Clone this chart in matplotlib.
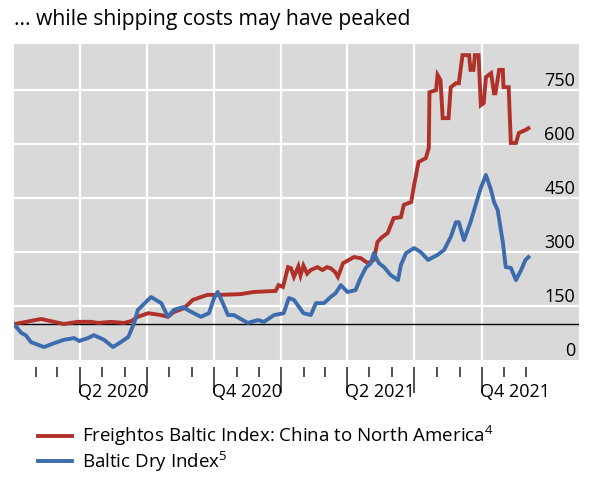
import matplotlib
matplotlib.use("Agg")
import numpy as np
import pandas as pd
import matplotlib.dates as mdates
import matplotlib.transforms as mtransforms
from matplotlib import pyplot as plt

plt.rcParams['font.family'] = ['Open Sans', 'DejaVu Sans']
plt.rcParams['mathtext.fontset'] = 'custom'
plt.rcParams['mathtext.rm'] = 'Open Sans'

# Freightos Baltic Index: China to North America (index)
fbx_dates = ['2020-01-03', '2020-02-08', '2020-03-10', '2020-03-29', '2020-04-16',
             '2020-04-26', '2020-05-13', '2020-05-31', '2020-06-10', '2020-06-19',
             '2020-07-03', '2020-07-20', '2020-07-30', '2020-08-07', '2020-08-21',
             '2020-09-02', '2020-09-22', '2020-10-10', '2020-11-06', '2020-11-24',
             '2020-12-24', '2020-12-28', '2021-01-03', '2021-01-10', '2021-01-14',
             '2021-01-18', '2021-01-24', '2021-01-27', '2021-01-31', '2021-02-05',
             '2021-02-10', '2021-02-19', '2021-02-26', '2021-03-04', '2021-03-09',
             '2021-03-15', '2021-03-19', '2021-03-26', '2021-04-10', '2021-04-19',
             '2021-04-29', '2021-05-07', '2021-05-12', '2021-05-17', '2021-05-26',
             '2021-06-03', '2021-06-13', '2021-06-17', '2021-06-27', '2021-07-01',
             '2021-07-07', '2021-07-17', '2021-07-21', '2021-07-22', '2021-07-31',
             '2021-08-02', '2021-08-06', '2021-08-09', '2021-08-17', '2021-08-20',
             '2021-08-27', '2021-08-31', '2021-09-05', '2021-09-14', '2021-09-16',
             '2021-09-20', '2021-09-22', '2021-09-27', '2021-09-30', '2021-10-04',
             '2021-10-07', '2021-10-14', '2021-10-18', '2021-10-20', '2021-10-25',
             '2021-10-30', '2021-10-31', '2021-11-07', '2021-11-10', '2021-11-17',
             '2021-11-21', '2021-11-30', '2021-12-04']
fbx_values = [100, 114, 100, 106, 106,
              103, 106, 103, 108, 120,
              130, 125, 120, 133, 144,
              167, 181, 181, 183, 189,
              192, 208, 203, 258, 255,
              231, 260, 235, 262, 240,
              250, 258, 250, 258, 255,
              245, 231, 269, 286, 283,
              269, 278, 328, 339, 353,
              394, 397, 431, 439, 486,
              550, 561, 589, 744, 750,
              792, 778, 672, 672, 758,
              769, 769, 847, 847, 806,
              806, 847, 847, 708, 714,
              786, 797, 741, 741, 806,
              806, 758, 758, 603, 603,
              631, 639, 644]

# Baltic Dry Index (index)
bdi_dates = ['2020-01-03', '2020-01-12', '2020-01-18', '2020-01-25', '2020-02-04',
             '2020-02-12', '2020-02-26', '2020-03-10', '2020-03-24', '2020-03-31',
             '2020-04-12', '2020-04-20', '2020-05-04', '2020-05-16', '2020-05-27',
             '2020-06-06', '2020-06-14', '2020-06-19', '2020-06-30', '2020-07-07',
             '2020-07-21', '2020-07-30', '2020-08-07', '2020-08-20', '2020-08-26',
             '2020-09-13', '2020-09-24', '2020-10-01', '2020-10-06', '2020-10-13',
             '2020-10-20', '2020-10-28', '2020-11-16', '2020-11-30', '2020-12-08',
             '2020-12-22', '2021-01-04', '2021-01-11', '2021-01-18', '2021-01-25',
             '2021-01-31', '2021-02-10', '2021-02-17', '2021-02-28', '2021-03-09',
             '2021-03-16', '2021-03-23', '2021-04-01', '2021-04-12', '2021-04-19',
             '2021-04-26', '2021-05-03', '2021-05-07', '2021-05-14', '2021-05-21',
             '2021-05-30', '2021-06-09', '2021-06-13', '2021-06-20', '2021-07-01',
             '2021-07-10', '2021-07-20', '2021-08-02', '2021-08-11', '2021-08-20',
             '2021-08-27', '2021-08-31', '2021-09-07', '2021-09-16', '2021-09-23',
             '2021-09-30', '2021-10-07', '2021-10-14', '2021-10-18', '2021-10-23',
             '2021-10-30', '2021-11-03', '2021-11-10', '2021-11-17', '2021-11-24',
             '2021-11-30', '2021-12-04']
bdi_values = [97, 75, 69, 50, 42,
              36, 47, 56, 61, 53,
              61, 69, 56, 36, 50,
              64, 103, 139, 161, 175,
              158, 120, 139, 147, 139,
              120, 130, 172, 189, 158,
              125, 125, 103, 111, 106,
              125, 130, 172, 167, 147,
              130, 125, 158, 158, 175,
              186, 208, 189, 194, 228,
              256, 269, 297, 269, 258,
              236, 222, 264, 297, 311,
              300, 278, 292, 306, 342,
              383, 383, 333, 383, 431,
              478, 514, 472, 439, 417,
              328, 258, 256, 222, 250,
              278, 286]

y_ticks = [0, 150, 300, 450, 600, 750]
quarter_labels = ['Q2 2020', 'Q4 2020', 'Q2 2021', 'Q4 2021']
quarter_mids = ['2020-05-16', '2020-11-15', '2021-05-16', '2021-11-15']

red = '#b03129'
blue = '#3d6cae'

fig = plt.figure(figsize=(5.92, 4.80), dpi=100)
ax = fig.add_axes([14 / 592, 1 - 360 / 480, (579 - 14) / 592, (360 - 44) / 480])
ax.set_facecolor('#d9d9d9')

ax.set_xlim(pd.Timestamp('2020-01-02'), pd.Timestamp('2022-02-11'))
ax.set_ylim(0, 878)

# grid
quarters = pd.date_range('2020-04-01', '2021-10-01', freq='QS')
for q in quarters:
    ax.axvline(q, color='white', lw=1.6, zorder=1)
for v in y_ticks[1:]:
    ax.axhline(v, color='white', lw=1.6, zorder=1)
ax.axhline(100, color='black', lw=1.0, zorder=2)

ax.plot(pd.to_datetime(fbx_dates), fbx_values, color=red, lw=2.8, zorder=3,
        solid_joinstyle='miter',
        label='Freightos Baltic Index: China to North America$^{4}$')
ax.plot(pd.to_datetime(bdi_dates), bdi_values, color=blue, lw=2.8, zorder=3,
        label='Baltic Dry Index$^{5}$')

# right-side value labels sitting just above their gridlines
trans = mtransforms.blended_transform_factory(ax.transAxes, ax.transData)
for v in y_ticks:
    ax.text(0.993, v, str(v), transform=trans, ha='right', va='bottom',
            fontsize=13, color='black')

ax.set_yticks([])
for s in ax.spines.values():
    s.set_visible(False)

# x ticks: long at quarters, short at months
months = pd.date_range('2020-02-01', '2021-12-01', freq='MS')
ax.set_xticks(quarters)
ax.set_xticks([m for m in months if m not in quarters], minor=True)
ax.spines['bottom'].set_position(('outward', 5))
ax.tick_params(axis='x', which='major', length=19, width=1.1, color='#222222',
               labelbottom=False)
ax.tick_params(axis='x', which='minor', length=7, width=1.1, color='#222222')

xtrans = mtransforms.blended_transform_factory(ax.transData, ax.transAxes)
for lab, m in zip(quarter_labels, quarter_mids):
    ax.text(mdates.date2num(pd.Timestamp(m)), -0.102, lab, transform=xtrans,
            ha='center', va='center', fontsize=13)

fig.text(14 / 592, 1 - 20 / 480, '... while shipping costs may have peaked',
         ha='left', va='center', fontsize=15.2)

fig.legend(loc='upper left', bbox_to_anchor=(30 / 592, 1 - 416 / 480),
           frameon=False, fontsize=13.5, handlelength=1.85, handletextpad=0.5,
           labelspacing=0.05, borderaxespad=0)

fig.savefig('out.png', dpi=100)
